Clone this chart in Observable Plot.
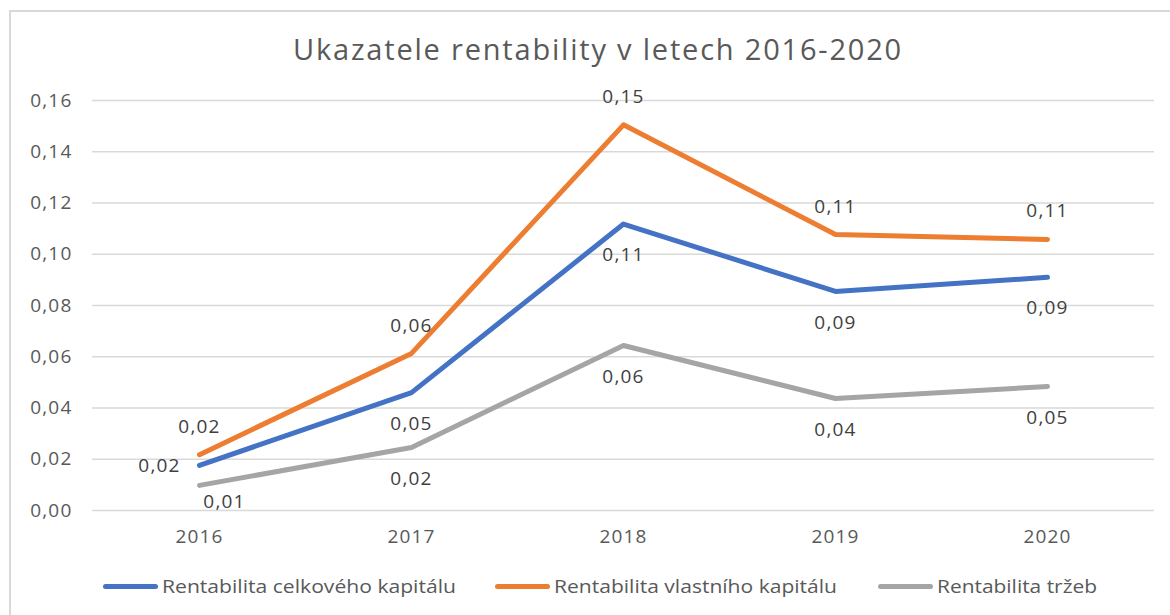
<!DOCTYPE html>
<html>
<head>
<meta charset="utf-8">
<script src="https://cdn.jsdelivr.net/npm/d3@7"></script>
<script src="https://cdn.jsdelivr.net/npm/@observablehq/plot@0.6"></script>
<style>
  html, body { margin: 0; padding: 0; background: #fff; width: 1170px; height: 615px; overflow: hidden; }
  #frame { position: absolute; left: 9px; top: 10px; width: 1170px; height: 620px; border: 2px solid #d9d9d9; box-sizing: border-box; }
  #title { position: absolute; left: 0; width: 1196px; top: 29px; text-align: center; font-family: "Open Sans", sans-serif; font-size: 29px; letter-spacing: 1.8px; color: #595959; }
  #chart { position: absolute; left: 0; top: 0; }
  .leg { position: absolute; top: 573px; font-family: "Open Sans", sans-serif; font-size: 19px; color: #595959; white-space: nowrap; transform-origin: 0 50%; line-height: 26px; }
  .sw { position: absolute; top: 584px; height: 5px; border-radius: 3px; }
</style>
</head>
<body>
<div id="frame"></div>
<div id="title">Ukazatele rentability v letech 2016-2020</div>
<div id="chart"></div>
<div id="legend"></div>
<script>
const years = ["2016", "2017", "2018", "2019", "2020"];
const seriesNames = ["Rentabilita celkového kapitálu", "Rentabilita vlastního kapitálu", "Rentabilita tržeb"];
const celkovyKapital = [0.0176, 0.046, 0.1118, 0.0855, 0.0910];
const vlastniKapital = [0.0218, 0.0613, 0.1505, 0.1077, 0.1058];
const trzby = [0.0098, 0.0246, 0.0644, 0.0437, 0.0484];
const yTicks = [0, 0.02, 0.04, 0.06, 0.08, 0.10, 0.12, 0.14, 0.16];
const colors = ["#4472C4", "#ED7D31", "#A5A5A5"];

const allSeries = [celkovyKapital, vlastniKapital, trzby];
const data = [];
allSeries.forEach((vals, si) => {
  vals.forEach((v, i) => data.push({ series: seriesNames[si], year: years[i], value: v, si, i }));
});

const fmt = d => d.toFixed(2).replace(".", ",");
const font = "'Open Sans', sans-serif";

const blue = data.filter(d => d.si === 0);
const orange = data.filter(d => d.si === 1);
const gray = data.filter(d => d.si === 2);

const plot = Plot.plot({
  width: 1170,
  height: 560,
  marginTop: 100,
  marginBottom: 50,
  marginLeft: 92,
  marginRight: 16,
  style: { fontFamily: font, fontSize: "19px", letterSpacing: "1.2px", color: "#595959", background: "transparent" },
  x: { type: "point", domain: years, padding: 0.5 },
  y: { domain: [0, 0.16] },
  color: { domain: seriesNames, range: colors },
  marks: [
    Plot.ruleY(yTicks, { stroke: "#d9d9d9", strokeWidth: 1.5 }),
    Plot.axisY(yTicks, { tickSize: 0, tickPadding: 20, tickFormat: fmt, label: null, fill: "#595959", fontSize: 19 }),
    Plot.axisX({ tickSize: 0, tickPadding: 19, label: null, fill: "#595959", fontSize: 19 }),
    Plot.line(data, { x: "year", y: "value", z: "series", stroke: "series", strokeWidth: 5, strokeLinejoin: "round", strokeLinecap: "round" }),
    // blue labels: first on the left, the rest below
    Plot.text(blue.filter(d => d.i === 0), { x: "year", y: "value", text: d => fmt(d.value), dx: -40, dy: 1, fill: "#404040", fontSize: 19 }),
    Plot.text(blue.filter(d => d.i > 0), { x: "year", y: "value", text: d => fmt(d.value), dy: 31, fill: "#404040", fontSize: 19 }),
    // orange labels above
    Plot.text(orange, { x: "year", y: "value", text: d => fmt(d.value), dy: -28, fill: "#404040", fontSize: 19 }),
    // gray labels below
    Plot.text(gray.filter(d => d.i === 0), { x: "year", y: "value", text: d => fmt(d.value), dx: 25, dy: 17, fill: "#404040", fontSize: 19 }),
    Plot.text(gray.filter(d => d.i > 0), { x: "year", y: "value", text: d => fmt(d.value), dy: 31, fill: "#404040", fontSize: 19 })
  ]
});
document.getElementById("chart").appendChild(plot);

// legend
const legend = document.getElementById("legend");
const swX = [103, 495, 878];
const swW = [55, 55, 55];
const textW = [294, 283, 160];
seriesNames.forEach((name, k) => {
  const sw = document.createElement("div");
  sw.className = "sw";
  sw.style.left = swX[k] + "px";
  sw.style.width = swW[k] + "px";
  sw.style.background = colors[k];
  legend.appendChild(sw);
  const t = document.createElement("div");
  t.className = "leg";
  t.style.left = (swX[k] + swW[k] + 4) + "px";
  t.textContent = name;
  legend.appendChild(t);
  const w = t.getBoundingClientRect().width;
  t.style.transform = `scaleX(${textW[k] / w})`;
});
</script>
</body>
</html>
